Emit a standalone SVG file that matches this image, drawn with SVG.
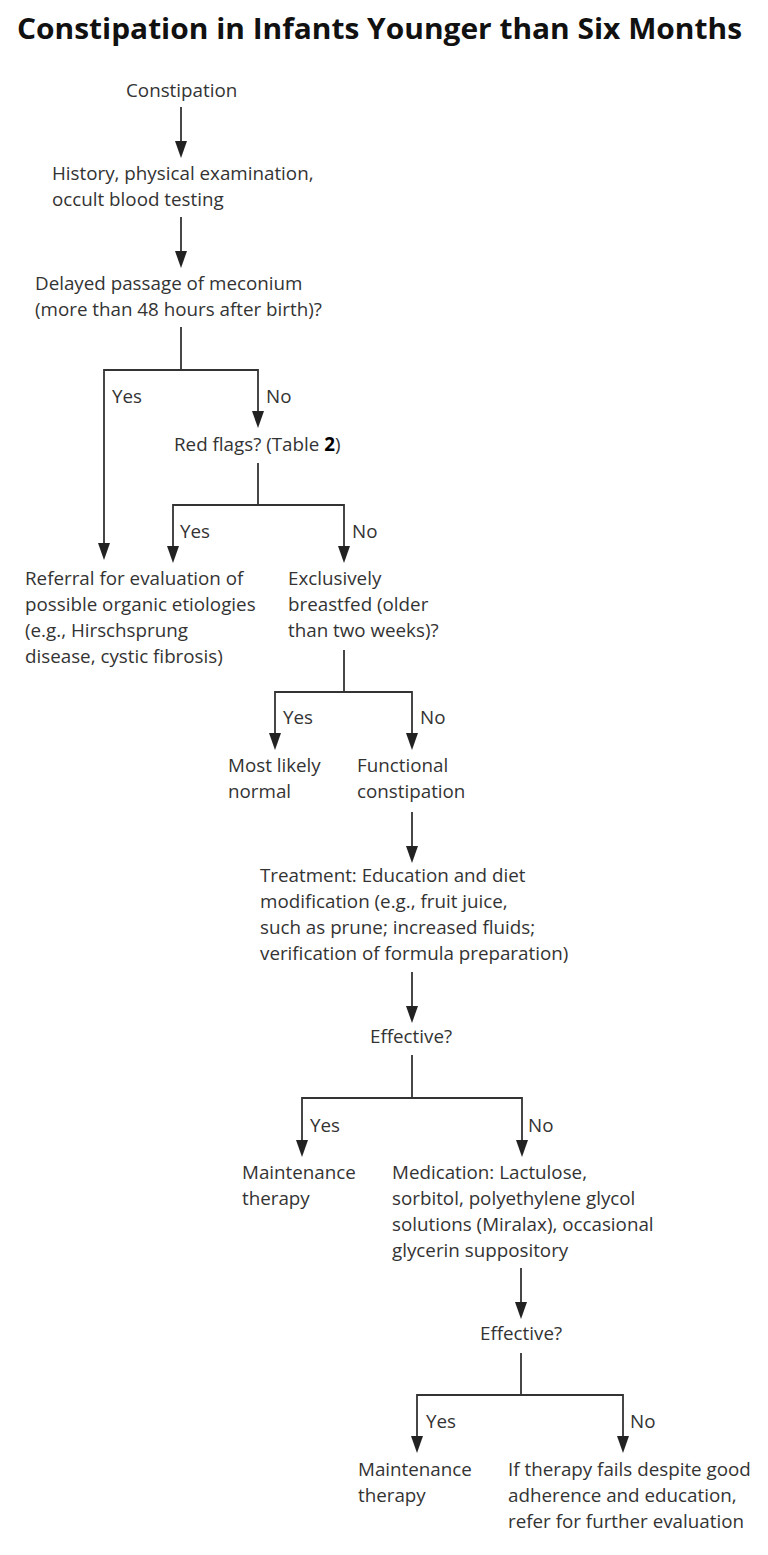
<svg xmlns="http://www.w3.org/2000/svg" width="768" height="1555" viewBox="0 0 768 1555">
<defs>
<style>
.t{font-family:"Open Sans","Noto Sans","Liberation Sans",sans-serif;font-size:18.8px;fill:#333;}
.ttl{font-family:"Open Sans","Liberation Sans",sans-serif;font-size:29px;font-weight:bold;fill:#111;}
.c{stroke:#333;stroke-width:1.8;fill:none;}
.h{fill:#222;}
</style>
</defs>
<rect width="768" height="1555" fill="#fff"/>
<text class="ttl" x="17" y="39" textLength="725" lengthAdjust="spacingAndGlyphs">Constipation in Infants Younger than Six Months</text>

<g id="connectors">
<line class="c" x1="181" y1="107" x2="181" y2="142"/>
<path class="h" d="M175,141 L187,141 L181,158 Z"/>
<line class="c" x1="181" y1="217" x2="181" y2="252"/>
<path class="h" d="M175,251 L187,251 L181,268 Z"/>

<polyline class="c" points="181,327 181,370"/>
<polyline class="c" points="104,544 104,370 258,370 258,412"/>
<path class="h" d="M98,543 L110,543 L104,560 Z"/>
<path class="h" d="M252,411 L264,411 L258,428 Z"/>

<polyline class="c" points="258,463 258,505"/>
<polyline class="c" points="173,547 173,505 344,505 344,547"/>
<path class="h" d="M167,546 L179,546 L173,563 Z"/>
<path class="h" d="M338,546 L350,546 L344,563 Z"/>

<polyline class="c" points="344,650 344,692"/>
<polyline class="c" points="275,734 275,692 412,692 412,734"/>
<path class="h" d="M269,733 L281,733 L275,750 Z"/>
<path class="h" d="M406,733 L418,733 L412,750 Z"/>

<line class="c" x1="412" y1="812" x2="412" y2="847"/>
<path class="h" d="M406,846 L418,846 L412,863 Z"/>

<line class="c" x1="412" y1="972" x2="412" y2="1007"/>
<path class="h" d="M406,1006 L418,1006 L412,1023 Z"/>

<polyline class="c" points="412,1055 412,1098"/>
<polyline class="c" points="302,1141 302,1098 522,1098 522,1141"/>
<path class="h" d="M296,1140 L308,1140 L302,1157 Z"/>
<path class="h" d="M516,1140 L528,1140 L522,1157 Z"/>

<line class="c" x1="521" y1="1268" x2="521" y2="1303"/>
<path class="h" d="M515,1302 L527,1302 L521,1319 Z"/>

<polyline class="c" points="521,1353 521,1395"/>
<polyline class="c" points="417,1437 417,1395 623,1395 623,1437"/>
<path class="h" d="M411,1436 L423,1436 L417,1453 Z"/>
<path class="h" d="M617,1436 L629,1436 L623,1453 Z"/>
</g>

<g id="labels">
<text class="t" x="112" y="403">Yes</text>
<text class="t" x="266" y="403">No</text>
<text class="t" x="180" y="538">Yes</text>
<text class="t" x="352" y="538">No</text>
<text class="t" x="283" y="724">Yes</text>
<text class="t" x="420" y="724">No</text>
<text class="t" x="310" y="1132">Yes</text>
<text class="t" x="528" y="1132">No</text>
<text class="t" x="426" y="1428">Yes</text>
<text class="t" x="630" y="1428">No</text>
</g>

<g id="n-constipation"><text class="t" x="126" y="97">Constipation</text></g>
<g id="n-history"><text class="t" x="52" y="180">History, physical examination,</text><text class="t" x="52" y="206">occult blood testing</text></g>
<g id="n-delayed"><text class="t" x="35" y="290">Delayed passage of meconium</text><text class="t" x="35" y="316">(more than 48 hours after birth)?</text></g>
<g id="n-redflags"><text class="t" x="174" y="451">Red flags? (Table <tspan fill="#000" font-weight="bold">2</tspan>)</text></g>
<g id="n-referral"><text class="t" x="25" y="585">Referral for evaluation of</text><text class="t" x="25" y="611">possible organic etiologies</text><text class="t" x="25" y="637">(e.g., Hirschsprung</text><text class="t" x="25" y="663">disease, cystic fibrosis)</text></g>
<g id="n-breastfed"><text class="t" x="288" y="585">Exclusively</text><text class="t" x="288" y="611">breastfed (older</text><text class="t" x="288" y="637">than two weeks)?</text></g>
<g id="n-normal"><text class="t" x="228" y="772">Most likely</text><text class="t" x="228" y="798">normal</text></g>
<g id="n-functional"><text class="t" x="357" y="772">Functional</text><text class="t" x="357" y="798">constipation</text></g>
<g id="n-treatment"><text class="t" x="260" y="882">Treatment: Education and diet</text><text class="t" x="260" y="908">modification (e.g., fruit juice,</text><text class="t" x="260" y="934">such as prune; increased fluids;</text><text class="t" x="260" y="960">verification of formula preparation)</text></g>
<g id="n-effective1"><text class="t" x="370" y="1043">Effective?</text></g>
<g id="n-maint1"><text class="t" x="242" y="1179">Maintenance</text><text class="t" x="242" y="1205">therapy</text></g>
<g id="n-medication"><text class="t" x="392" y="1179">Medication: Lactulose,</text><text class="t" x="392" y="1205">sorbitol, polyethylene glycol</text><text class="t" x="392" y="1231">solutions (Miralax), occasional</text><text class="t" x="392" y="1257">glycerin suppository</text></g>
<g id="n-effective2"><text class="t" x="480" y="1340">Effective?</text></g>
<g id="n-maint2"><text class="t" x="358" y="1476">Maintenance</text><text class="t" x="358" y="1502">therapy</text></g>
<g id="n-refer"><text class="t" x="508" y="1476">If therapy fails despite good</text><text class="t" x="508" y="1502">adherence and education,</text><text class="t" x="508" y="1528">refer for further evaluation</text></g>
</svg>
